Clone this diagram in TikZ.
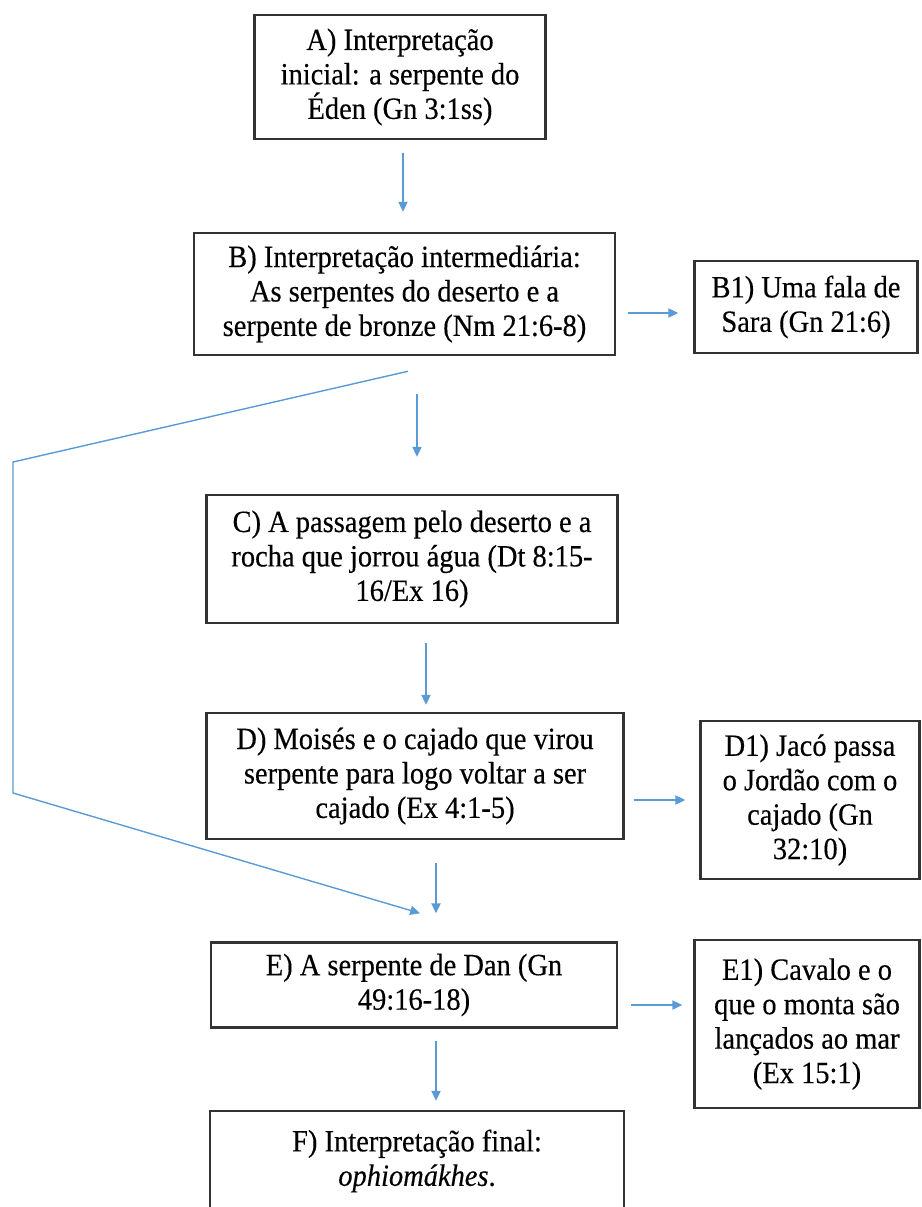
\documentclass[tikz,border=0pt]{standalone}
\usepackage{fontspec}
\setmainfont[FakeStretch=0.92,FakeBold=0.3]{Liberation Serif}
\usetikzlibrary{arrows.meta,calc}
\definecolor{arrowblue}{HTML}{5B9BD5}
\definecolor{boxgray}{HTML}{333333}
\newcommand\boxfont{\rmfamily\fontsize{22}{24.5}\selectfont}
\tikzset{
    box/.style 2 args={draw=boxgray, line width=1.8pt, fill=white, inner sep=0pt, align=center,
        minimum width=#1*0.025cm, minimum height=#2*0.025cm, font=\boxfont},
    link/.style={draw=arrowblue, line width=1pt, -{Triangle[length=7pt,width=6.5pt]}}
}
\begin{document}
\begin{tikzpicture}[x=0.025cm, y=-0.025cm]
        \useasboundingbox (0,0) rectangle (921,1207);

        \node[box={291}{124}] (A) at (400,77) {A) Interpretação\\inicial: a serpente do\\Éden (Gn 3:1ss)};
        \node[box={421}{122}] (B) at (404.5,294) {B) Interpretação intermediária:\\As serpentes do deserto e a\\serpente de bronze (Nm 21:6-8)};
        \node[box={223}{92}] (B1) at (806,307) {B1) Uma fala de\\Sara (Gn 21:6)};
        \node[box={411}{128}] (C) at (412,559) {C) A passagem pelo deserto e a\\rocha que jorrou água (Dt 8:15-\\16/Ex 16)};
        \node[box={417}{126}] (D) at (415,776) {D) Moisés e o cajado que virou\\serpente para logo voltar a ser\\cajado (Ex 4:1-5)};
        \node[box={219}{158}] (D1) at (810,800) {D1) Jacó passa\\o Jordão com o\\cajado (Gn\\32:10)};
        \node[box={406}{85}] (E) at (414,985) {E) A serpente de Dan (Gn\\49:16-18)};
        \node[box={225}{168}] (E1) at (807,1024) {E1) Cavalo e o\\que o monta são\\lançados ao mar\\(Ex 15:1)};
        \node[box={414}{100}] (F) at (417,1161) {F) Interpretação final:\\\textit{ophiomákhes}.};

        \coordinate (bendTop) at (13,462);
        \coordinate (bendBot) at (13,793);

        \draw[link] ($(A.south)+(3,13)$) -- ($(A.south |- B.north)+(3,-20)$);
        \draw[link] ($(B.east |- B1.west)+(12,6)$) -- ($(B1.west)+(-15,6)$);
        \draw[link] ($(B.south)+(12.5,38)$) -- ($(B.south |- C.north)+(12.5,-37)$);
        \draw[link] ($(C.south)+(14,19)$) -- ($(C.south |- D.north)+(14,-7)$);
        \draw[link] ($(D.east |- D1.west)+(9,0)$) -- ($(D1.west)+(-14,0)$);
        \draw[link] ($(D.south)+(21,23)$) -- ($(D.south |- E.north)+(21,-28)$);
        \draw[link] ($(E.east)+(13,20)$) -- ($(E.east -| E1.west)+(-11,20)$);
        \draw[link] ($(E.south)+(22,12)$) -- ($(E.south |- F.north)+(22,-9)$);
        \draw[link] ($(B.south)+(3.5,15)$) -- (bendTop) -- (bendBot) -- ($(E.north)+(6,-28)$);
\end{tikzpicture}
\end{document}
